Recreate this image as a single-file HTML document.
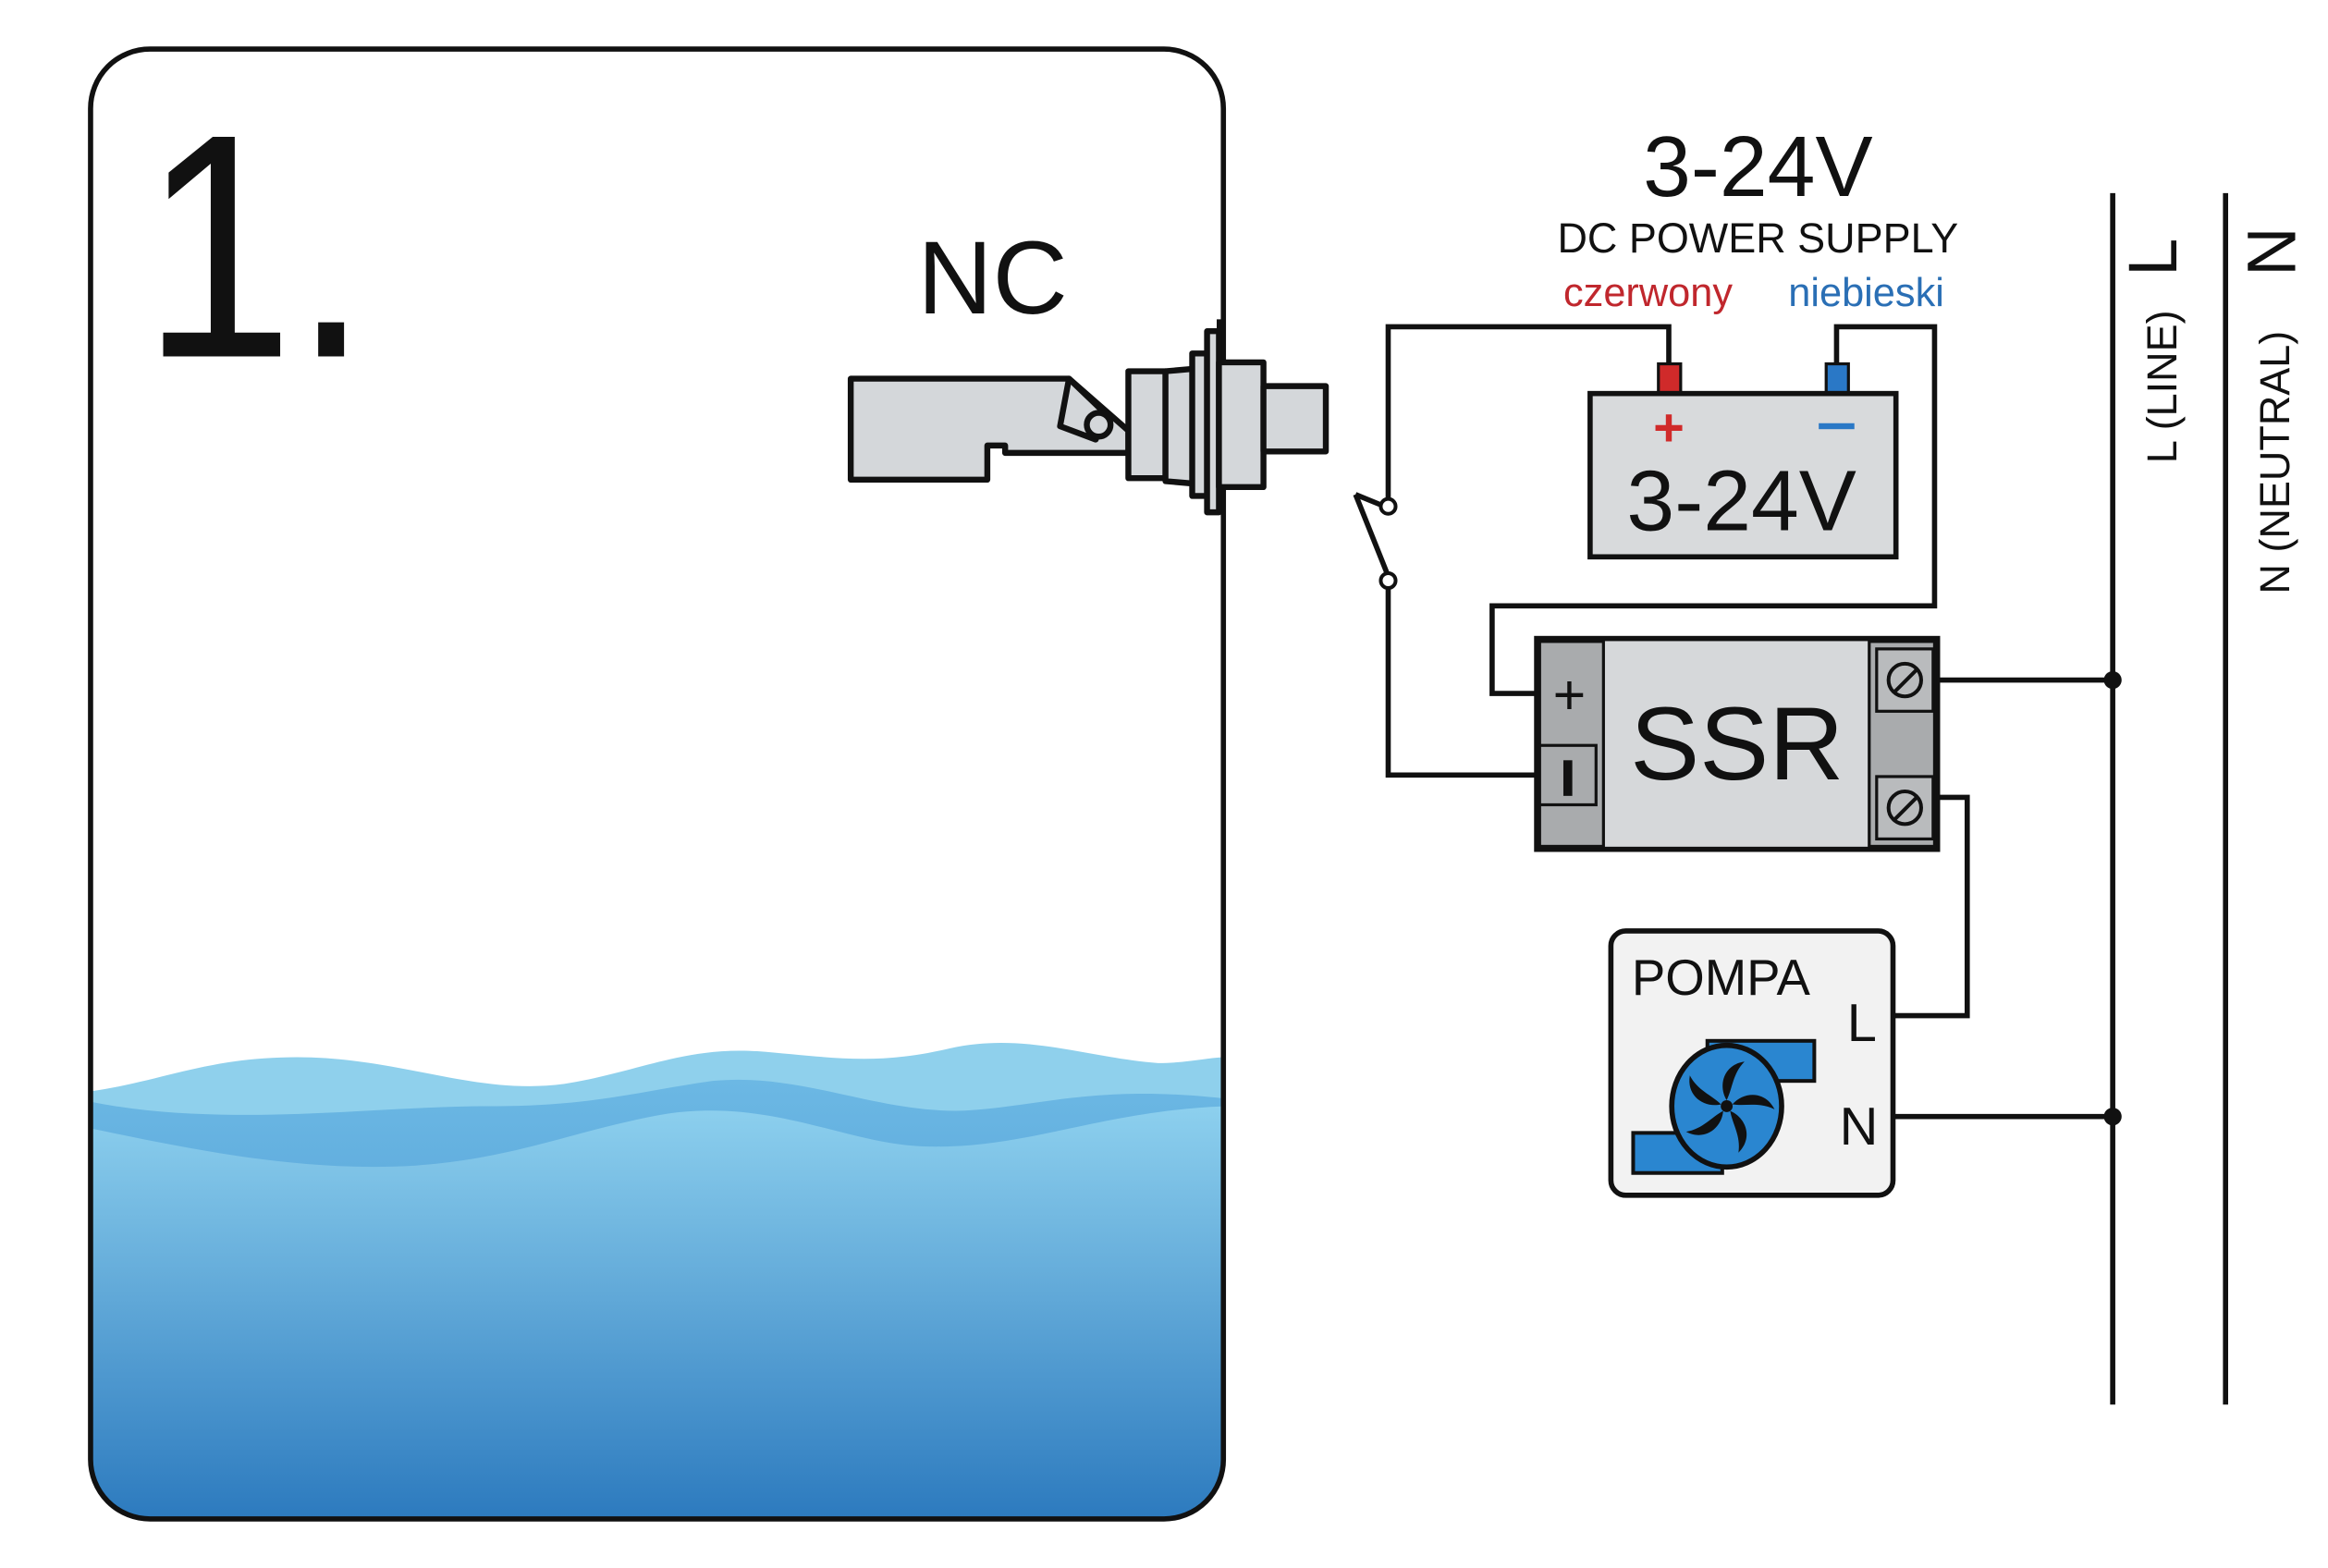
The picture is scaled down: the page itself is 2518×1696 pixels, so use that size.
<!DOCTYPE html>
<html><head><meta charset="utf-8"><style>
html,body{margin:0;padding:0;background:#fff;}
svg{display:block;}
text{font-family:"Liberation Sans",sans-serif;}
</style></head><body>
<svg width="2518" height="1696" viewBox="0 0 1568 1056" xmlns="http://www.w3.org/2000/svg">
<defs>
<linearGradient id="wg" x1="0" y1="0" x2="0" y2="1">
<stop offset="0" stop-color="#8dd0ee"/><stop offset="1" stop-color="#2a78bd"/>
</linearGradient>
<linearGradient id="wb" x1="0" y1="0" x2="0" y2="1">
<stop offset="0" stop-color="#6cb8e4"/><stop offset="1" stop-color="#3d8ccb"/>
</linearGradient>
<clipPath id="tc"><rect x="61" y="33" width="763" height="990" rx="40"/></clipPath>
</defs>
<rect width="1568" height="1056" fill="#fff"/>
<g clip-path="url(#tc)">
<path d="M61 735 C110 728 140 712 200 712 C270 712 320 738 380 730 C430 722 460 705 510 708 C560 712 590 718 640 706 C690 695 730 712 780 716 C800 716 815 712 826 712 L826 1030 L61 1030Z" fill="#8fd0ec"/>
<path d="M61 742 C150 760 250 745 330 745 C400 745 430 735 480 728 C540 722 590 750 650 748 C700 745 740 730 826 740 L826 1030 L61 1030Z" fill="url(#wb)"/>
<path d="M61 760 C120 772 200 790 280 785 C350 780 390 760 450 750 C520 740 570 770 620 772 C690 775 740 748 826 745 L826 1030 L61 1030Z" fill="url(#wg)"/>
</g>
<rect x="61" y="33" width="763" height="990" rx="40" fill="none" stroke="#111" stroke-width="3.5"/>
<text x="96" y="240" font-size="215" fill="#111" transform="translate(96,240) scale(0.85,1) translate(-96,-240)">1.</text>
<text x="618" y="211" font-size="70" fill="#111">NC</text>
<g stroke="#111" stroke-width="4" fill="#d4d7da" stroke-linejoin="round">
<path d="M573 255 L720 255 L760 290 L760 305 L677 305 L677 300 L665 300 L665 323 L573 323 Z"/>
<path d="M720 255 L744 278 L738 296 L714 287 Z"/>
<circle cx="740" cy="286" r="8"/>
<rect x="760" y="250" width="25" height="72"/>
<path d="M785 250 L808 248 L808 326 L785 324 Z"/>
<rect x="803" y="238" width="10" height="96"/>
<rect x="813" y="223" width="8" height="122"/>
<rect x="821" y="244" width="30" height="84"/>
<rect x="851" y="260" width="42" height="44"/>
</g>
<line x1="821" y1="215" x2="821" y2="345" stroke="#111" stroke-width="3"/>
<text x="1184" y="132" font-size="58" text-anchor="middle" fill="#111">3-24V</text>
<text x="1184" y="170" font-size="28" text-anchor="middle" fill="#111">DC POWER SUPPLY</text>
<text x="1110" y="206" font-size="27" text-anchor="middle" fill="#c0272d">czerwony</text>
<text x="1257" y="206" font-size="27" text-anchor="middle" fill="#2a6fb5">niebieski</text>
<g stroke="#111" stroke-width="3.5" fill="none">
<polyline points="1124,245 1124,220 935,220 935,335"/>
<polyline points="1237,245 1237,220 1303,220 1303,408 1005,408 1005,467 1035,467"/>
<line x1="935" y1="342" x2="913" y2="333"/>
<line x1="913" y1="333" x2="935" y2="388"/>
<polyline points="935,395 935,522 1035,522"/>
<line x1="1305" y1="458" x2="1423" y2="458"/>
<polyline points="1305,537 1325,537 1325,684 1275,684"/>
<line x1="1275" y1="752" x2="1423" y2="752"/>
</g>
<circle cx="935" cy="341" r="5" fill="#fff" stroke="#111" stroke-width="2.5"/>
<circle cx="935" cy="391" r="5" fill="#fff" stroke="#111" stroke-width="2.5"/>
<rect x="1117" y="245" width="15" height="20" fill="#d02a2a" stroke="#111" stroke-width="2"/>
<rect x="1230" y="245" width="15" height="20" fill="#2a78c6" stroke="#111" stroke-width="2"/>
<rect x="1071" y="265" width="206" height="110" fill="#d8dadc" stroke="#111" stroke-width="3.5"/>
<text x="1124" y="300" font-size="36" text-anchor="middle" fill="#d02a2a" font-weight="bold">+</text>
<rect x="1225" y="285" width="24" height="4" fill="#2a78c6"/>
<text x="1173" y="357" font-size="58" text-anchor="middle" fill="#111">3-24V</text>
<rect x="1035" y="430" width="270" height="142" fill="#d6d8da" stroke="#111" stroke-width="3.5"/>
<rect x="1037" y="432" width="43" height="138" fill="#a9abad" stroke="#111" stroke-width="2"/>
<rect x="1037" y="502" width="38" height="40" fill="#a9abad" stroke="#111" stroke-width="2"/>
<rect x="1259" y="432" width="44" height="138" fill="#a9abad" stroke="#111" stroke-width="2"/>
<rect x="1264" y="437" width="38" height="42" fill="#b9bbbd" stroke="#111" stroke-width="2"/>
<rect x="1264" y="523" width="38" height="42" fill="#b9bbbd" stroke="#111" stroke-width="2"/>
<g stroke="#111" stroke-width="2.5" fill="none">
<circle cx="1283" cy="458" r="11"/><line x1="1276" y1="466" x2="1291" y2="451"/>
<circle cx="1283" cy="544" r="11"/><line x1="1276" y1="552" x2="1291" y2="537"/>
</g>
<text x="1057" y="481" font-size="38" text-anchor="middle" fill="#111">+</text>
<rect x="1053" y="512" width="6" height="24" fill="#111"/>
<text x="1170" y="525" font-size="70" text-anchor="middle" fill="#111">SSR</text>
<line x1="1423" y1="130" x2="1423" y2="946" stroke="#111" stroke-width="3.5"/>
<line x1="1499" y1="130" x2="1499" y2="946" stroke="#111" stroke-width="3.5"/>
<circle cx="1423" cy="458" r="6" fill="#111"/>
<circle cx="1423" cy="752" r="6" fill="#111"/>
<text transform="translate(1466,312) rotate(-90)" font-size="28" fill="#111">L (LINE)</text>
<text transform="translate(1466,186) rotate(-90)" font-size="46" fill="#111">L</text>
<text transform="translate(1542,400) rotate(-90)" font-size="28" fill="#111">N (NEUTRAL)</text>
<text transform="translate(1546,186) rotate(-90)" font-size="46" fill="#111">N</text>
<rect x="1085" y="627" width="190" height="178" rx="10" fill="#f2f2f2" stroke="#111" stroke-width="3.5"/>
<text x="1099" y="670" font-size="34" fill="#111">POMPA</text>
<text x="1244" y="701" font-size="36" fill="#111">L</text>
<text x="1239" y="771" font-size="36" fill="#111">N</text>
<g stroke="#111" stroke-width="2.5">
<rect x="1150" y="701" width="72" height="27" fill="#2a86d0"/>
<rect x="1100" y="763" width="60" height="27" fill="#2a86d0"/>
<ellipse cx="1163" cy="745" rx="37" ry="41" fill="#2a86d0" stroke-width="3.5"/>
</g>
<g fill="#111" transform="translate(1163,745)">
<path d="M0 -4 C-6 -14 -2 -28 12 -30 C4 -22 4 -12 0 -4Z"/>
<path d="M0 -4 C-6 -14 -2 -28 12 -30 C4 -22 4 -12 0 -4Z" transform="rotate(72)"/>
<path d="M0 -4 C-6 -14 -2 -28 12 -30 C4 -22 4 -12 0 -4Z" transform="rotate(144)"/>
<path d="M0 -4 C-6 -14 -2 -28 12 -30 C4 -22 4 -12 0 -4Z" transform="rotate(216)"/>
<path d="M0 -4 C-6 -14 -2 -28 12 -30 C4 -22 4 -12 0 -4Z" transform="rotate(288)"/>
<circle r="4"/>
</g>
</svg>
</body></html>
